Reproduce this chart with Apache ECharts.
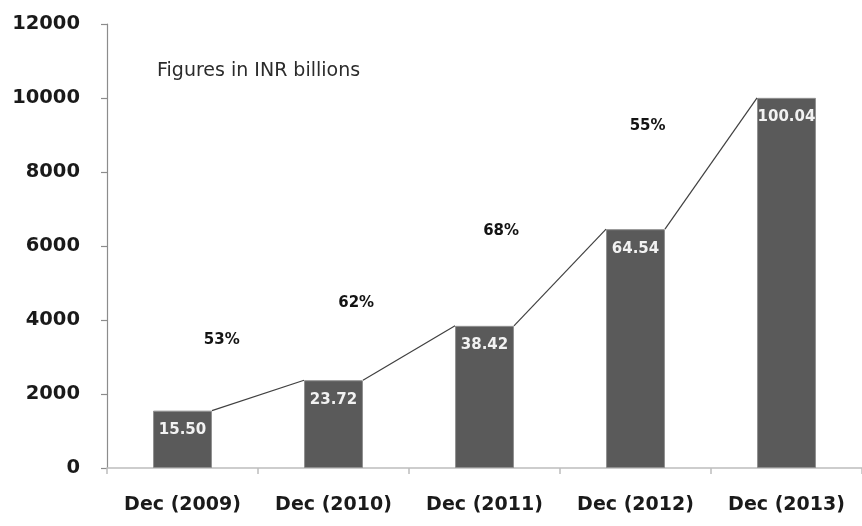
<!DOCTYPE html>
<html>
<head>
<meta charset="utf-8">
<script src="https://cdn.jsdelivr.net/npm/echarts@6/dist/echarts.min.js"></script>
<style>
  html, body { margin: 0; padding: 0; background: #ffffff; }
  #chart { width: 862px; height: 526px; }
</style>
</head>
<body>
<div id="chart"></div>
<script>
// Year-end figures (bars are in tens of millions; labels show INR billions)
const categories = ['Dec (2009)', 'Dec (2010)', 'Dec (2011)', 'Dec (2012)', 'Dec (2013)'];
const barValues = [1550, 2372, 3842, 6454, 10004];
const growthLabels = ['53%', '62%', '68%', '55%'];
const yTicks = { min: 0, max: 12000, interval: 2000 };
const noteText = 'Figures in INR billions';

// Where each growth label sits: offset from the left bar's centre (in category widths) and value height
const growthLabelAnchor = [[0.26, 3460], [0.15, 4460], [0.11, 6400], [0.08, 9250]];

const FONT = 'DejaVu Sans';
const BAR_RATIO = 0.39;

const chart = echarts.init(document.getElementById('chart'), null, { renderer: 'canvas' });

const connectorData = barValues.slice(0, -1).map((v, i) => [i, v, barValues[i + 1]]);

chart.setOption({
  animation: false,
  backgroundColor: '#ffffff',
  title: {
    text: noteText,
    left: 157,
    top: 62,
    padding: 0,
    textStyle: { fontFamily: FONT, fontWeight: 'normal', fontSize: 19, color: '#2b2b2b' }
  },
  grid: { left: 107, top: 24, width: 762.5, height: 444, containLabel: false },
  xAxis: {
    type: 'category',
    data: categories,
    boundaryGap: true,
    axisLine: { lineStyle: { color: '#bdbdbd', width: 1.5 } },
    axisTick: { show: true, alignWithLabel: false, length: 6, lineStyle: { color: '#bdbdbd', width: 1.5 } },
    axisLabel: { margin: 28, fontFamily: FONT, fontWeight: 'bold', fontSize: 19, color: '#1a1a1a', interval: 0 },
    splitLine: { show: false }
  },
  yAxis: {
    type: 'value',
    min: yTicks.min,
    max: yTicks.max,
    interval: yTicks.interval,
    axisLine: { show: true, lineStyle: { color: '#8c8c8c', width: 1.2 } },
    axisTick: { show: true, inside: false, length: 6, lineStyle: { color: '#8c8c8c', width: 1.2 } },
    axisLabel: {
      margin: 27,
      formatter: v => String(v),
      fontFamily: FONT, fontWeight: 'bold', fontSize: 19.5, color: '#1a1a1a'
    },
    splitLine: { show: false }
  },
  series: [
    {
      type: 'bar',
      data: barValues,
      barWidth: (BAR_RATIO * 100) + '%',
      itemStyle: { color: '#5a5a5a', borderColor: '#8f8f8f', borderWidth: 1 },
      label: {
        show: true,
        position: 'insideTop',
        distance: 12,
        formatter: p => (p.value / 100).toFixed(2),
        fontFamily: FONT,
        fontWeight: 'bold',
        fontSize: 15,
        color: '#f2f2f2'
      },
      z: 2
    },
    {
      // Connectors from each bar's top-right corner to the next bar's top-left corner
      type: 'custom',
      data: connectorData,
      renderItem: function (params, api) {
        const i = api.value(0);
        const p1 = api.coord([i, api.value(1)]);
        const p2 = api.coord([i + 1, api.value(2)]);
        const band = api.size([1, 0])[0];
        const half = band * BAR_RATIO / 2;
        const a = growthLabelAnchor[params.dataIndex];
        const ly = api.coord([i, a[1]])[1];
        const lx = p1[0] + band * a[0];
        return {
          type: 'group',
          children: [
            {
              type: 'line',
              shape: { x1: p1[0] + half, y1: p1[1], x2: p2[0] - half, y2: p2[1] },
              style: { stroke: '#404040', lineWidth: 1.2 }
            },
            {
              type: 'text',
              x: lx,
              y: ly,
              style: {
                text: growthLabels[params.dataIndex],
                font: 'bold 15px "' + FONT + '"',
                fill: '#141414',
                align: 'center',
                verticalAlign: 'middle'
              }
            }
          ]
        };
      },
      z: 3
    }
  ]
});
</script>
</body>
</html>
